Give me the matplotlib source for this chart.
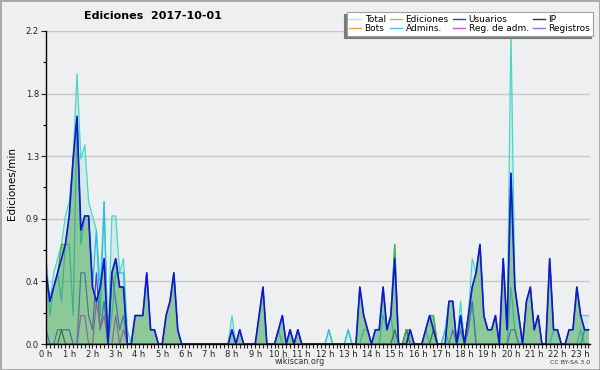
import numpy as np
import matplotlib
matplotlib.use('Agg')
import matplotlib.pyplot as plt
from matplotlib.lines import Line2D
from matplotlib.ticker import FixedLocator, MultipleLocator, FuncFormatter

# edits per 10-minute bin (00:00 ... 23:20)
total = [6, 3, 5, 6, 7, 9, 10, 13, 19, 13,
         14, 10, 9, 8, 4, 10, 0, 9, 9, 5,
         6, 1, 0, 2, 2, 2, 5, 1, 1, 0,
         0, 2, 3, 5, 1, 0, 0, 0, 0, 0,
         0, 0, 0, 0, 0, 0, 0, 0, 2, 0,
         1, 0, 0, 0, 0, 2, 4, 0, 0, 0,
         1, 2, 0, 1, 0, 1, 0, 0, 0, 0,
         0, 0, 0, 1, 0, 0, 0, 0, 1, 0,
         0, 4, 2, 1, 0, 1, 1, 4, 1, 2,
         7, 0, 0, 1, 1, 0, 0, 0, 1, 2,
         2, 0, 0, 1, 3, 3, 0, 3, 0, 2,
         6, 5, 7, 2, 1, 1, 2, 0, 6, 1,
         22, 4, 2, 0, 3, 4, 1, 2, 0, 0,
         6, 1, 1, 0, 0, 1, 1, 4, 2, 2, 2]
ediciones = [5, 3, 4, 5, 7, 7, 9, 13, 16, 8,
             9, 9, 4, 3, 4, 6, 0, 5, 6, 4,
             4, 0, 0, 2, 2, 2, 5, 1, 1, 0,
             0, 2, 3, 5, 1, 0, 0, 0, 0, 0,
             0, 0, 0, 0, 0, 0, 0, 0, 1, 0,
             1, 0, 0, 0, 0, 2, 4, 0, 0, 0,
             1, 2, 0, 1, 0, 1, 0, 0, 0, 0,
             0, 0, 0, 0, 0, 0, 0, 0, 0, 0,
             0, 4, 2, 1, 0, 1, 1, 4, 1, 2,
             7, 0, 0, 1, 1, 0, 0, 0, 1, 2,
             2, 0, 0, 0, 3, 3, 0, 2, 0, 2,
             4, 5, 7, 2, 1, 1, 2, 0, 6, 1,
             12, 4, 2, 0, 3, 4, 1, 2, 0, 0,
             6, 1, 1, 0, 0, 1, 1, 4, 2, 1, 1]
usuarios = [5, 3, 4, 5, 6, 7, 9, 13, 16, 8,
            9, 9, 4, 3, 4, 6, 0, 5, 6, 4,
            4, 0, 0, 2, 2, 2, 5, 1, 1, 0,
            0, 2, 3, 5, 1, 0, 0, 0, 0, 0,
            0, 0, 0, 0, 0, 0, 0, 0, 1, 0,
            1, 0, 0, 0, 0, 2, 4, 0, 0, 0,
            1, 2, 0, 1, 0, 1, 0, 0, 0, 0,
            0, 0, 0, 0, 0, 0, 0, 0, 0, 0,
            0, 4, 2, 1, 0, 1, 1, 4, 1, 2,
            6, 0, 0, 0, 1, 0, 0, 0, 1, 2,
            1, 0, 0, 0, 3, 3, 0, 2, 0, 2,
            4, 5, 7, 2, 1, 1, 2, 0, 6, 1,
            12, 4, 2, 0, 3, 4, 1, 2, 0, 0,
            6, 1, 1, 0, 0, 1, 1, 4, 2, 1, 1]
ip = [0, 0, 0, 0, 1, 0, 0, 0, 0, 0,
      0, 0, 0, 0, 0, 0, 0, 0, 0, 0,
      0, 0, 0, 0, 0, 0, 0, 0, 0, 0,
      0, 0, 0, 0, 0, 0, 0, 0, 0, 0,
      0, 0, 0, 0, 0, 0, 0, 0, 0, 0,
      0, 0, 0, 0, 0, 0, 0, 0, 0, 0,
      0, 0, 0, 0, 0, 0, 0, 0, 0, 0,
      0, 0, 0, 0, 0, 0, 0, 0, 0, 0,
      0, 0, 0, 0, 0, 0, 0, 0, 0, 0,
      1, 0, 0, 1, 0, 0, 0, 0, 0, 0,
      1, 0, 0, 0, 0, 0, 0, 0, 0, 0,
      0, 0, 0, 0, 0, 0, 0, 0, 0, 0,
      0, 0, 0, 0, 0, 0, 0, 0, 0, 0,
      0, 0, 0, 0, 0, 0, 0, 0, 0, 0, 0]
admins = [6, 2, 4, 5, 3, 7, 7, 2, 16, 7,
          9, 9, 4, 8, 2, 10, 0, 2, 5, 5,
          5, 0, 0, 0, 0, 0, 0, 0, 0, 0,
          0, 0, 0, 0, 0, 0, 0, 0, 0, 0,
          0, 0, 0, 0, 0, 0, 0, 0, 0, 0,
          0, 0, 0, 0, 0, 0, 0, 0, 0, 0,
          1, 0, 0, 1, 0, 0, 0, 0, 0, 0,
          0, 0, 0, 1, 0, 0, 0, 0, 1, 0,
          0, 0, 1, 1, 0, 0, 0, 2, 1, 2,
          0, 0, 0, 0, 0, 0, 0, 0, 1, 0,
          0, 0, 0, 1, 0, 0, 0, 2, 0, 1,
          3, 0, 0, 0, 0, 0, 0, 0, 0, 0,
          4, 1, 0, 0, 0, 0, 0, 0, 0, 0,
          0, 1, 1, 0, 0, 0, 0, 0, 1, 0, 0]
reg_adm = [0, 0, 0, 0, 0, 0, 0, 0, 0, 2,
           2, 0, 0, 3, 1, 2, 0, 0, 2, 0,
           1, 0, 0, 0, 0, 0, 0, 0, 0, 0] + [0] * 111
registros = [1, 0, 0, 1, 1, 1, 1, 0, 0, 5,
             5, 2, 1, 5, 1, 3, 0, 5, 3, 1,
             2, 0, 0, 0, 0, 0, 0, 0, 0, 0,
             0, 0, 0, 0, 0, 0, 0, 0, 0, 0,
             0, 0, 0, 0, 0, 0, 0, 0, 0, 0,
             0, 0, 0, 0, 0, 0, 0, 0, 0, 0,
             0, 0, 0, 0, 0, 0, 0, 0, 0, 0,
             0, 0, 0, 0, 0, 0, 0, 0, 0, 0,
             0, 0, 0, 0, 0, 0, 0, 0, 0, 0,
             0, 0, 0, 0, 0, 0, 0, 0, 0, 0,
             0, 0, 0, 0, 0, 1, 0, 1, 0, 1,
             3, 0, 0, 0, 0, 0, 0, 0, 0, 0,
             1, 1, 0, 0, 0, 0, 0, 0, 0, 0,
             0, 0, 0, 0, 0, 0, 0, 0, 0, 1, 1]
bots = [0] * 141

hours = list(range(24))
hour_labels = [f"{h} h" for h in hours]

# per 10 min -> per minute
def per_min(v):
    return np.array(v) / 10.0

t = np.arange(len(total)) / 6.0

fig = plt.figure(figsize=(6, 3.7), dpi=100, facecolor='#efefef',
                 edgecolor='#aaaaaa', linewidth=2)
ax = fig.add_axes([46/600, 26/370, 544/600, 313/370])
ax.set_facecolor('#eeeff1')

# total (light fill) and the thin series underneath the green area
ax.fill_between(t, per_min(total), color='#40d0c0', alpha=0.15, lw=0, zorder=1)
ax.plot(t, per_min(total), color='#48d8c8', lw=0.9, zorder=2)
ax.plot(t, per_min(bots), color='#f0a040', lw=0.8, zorder=1.5)
ax.plot(t, per_min(admins), color='#30bcdc', lw=0.9, zorder=2)
ax.plot(t, per_min(registros), color='#4848f0', lw=0.9, zorder=2)
ax.plot(t, per_min(reg_adm), color='#c830e0', lw=0.9, zorder=2)
ax.plot(t, per_min(ip), color='#3a3a3a', lw=0.9, zorder=2)
ax.fill_between(t, per_min(ediciones), color='#48a848', alpha=0.5, lw=0, zorder=3)
ax.plot(t, per_min(ediciones), color='#40b040', lw=0.9, zorder=3)
ax.plot(t, per_min(usuarios), color='#1414d8', lw=1.2, zorder=4)

ax.set_xlim(0, 23.4)
ax.set_ylim(0, 2.2)

yt = [0, 0.44, 0.88, 1.32, 1.76, 2.2]
ax.yaxis.set_major_locator(FixedLocator(yt))
ax.yaxis.set_minor_locator(FixedLocator([0.22, 0.66, 1.1, 1.54, 1.98]))
ax.yaxis.set_major_formatter(FuncFormatter(lambda v, p: f"{v:.1f}"))
ax.xaxis.set_major_locator(FixedLocator(hours))
ax.set_xticklabels(hour_labels)
ax.xaxis.set_minor_locator(MultipleLocator(1/6))

ax.tick_params(axis='y', which='major', length=3.6, width=0.8, labelsize=6, pad=1.5, colors='#222222')
ax.tick_params(axis='y', which='minor', length=2.2, width=0.8)
ax.tick_params(axis='x', which='both', length=3, width=0.8, labelsize=6, pad=1, colors='#222222')

ax.grid(axis='y', which='major', color='#c8c8c8', lw=1, zorder=0)
ax.set_axisbelow(True)
for s in ('top', 'right'):
    ax.spines[s].set_visible(False)
for s in ('left', 'bottom'):
    ax.spines[s].set_color('black')
    ax.spines[s].set_linewidth(1)
    ax.spines[s].set_zorder(5)

# legend, column-major order for 4 columns x 2 rows
handles = [Line2D([], [], color='#a8e6de', lw=1), Line2D([], [], color='#f0a040', lw=1),
           Line2D([], [], color='#80cc80', lw=1), Line2D([], [], color='#40c8e0', lw=1),
           Line2D([], [], color='#3838e0', lw=1), Line2D([], [], color='#d050e0', lw=1),
           Line2D([], [], color='#333333', lw=1), Line2D([], [], color='#7878f0', lw=1)]
labels = ['Total', 'Bots', 'Ediciones', 'Admins.', 'Usuarios', 'Reg. de adm.', 'IP', 'Registros']
leg = ax.legend(handles, labels, ncol=4, loc='upper right',
                bbox_to_anchor=(593/600, 1 - 12/370), bbox_transform=fig.transFigure,
                fontsize=6.5, frameon=True, fancybox=False,
                shadow={'ox': -1.6, 'oy': -1.6, 'color': '#7a7a7a', 'alpha': 1},
                borderpad=0.3, labelspacing=0.05, handlelength=1.3, handletextpad=0.4,
                columnspacing=0.5, borderaxespad=0)
leg.get_frame().set_edgecolor('#a0a0a0')
leg.get_frame().set_linewidth(0.8)
leg.set_zorder(10)

fig.text(153/600, 1 - 16/370, 'Ediciones  2017-10-01', ha='center', va='center',
         fontsize=8, fontweight='bold')
fig.text(12/600, 187/370, 'Ediciones/min', rotation=90, ha='center', va='center',
         fontsize=7.5)
fig.text(300/600, 1 - 362/370, 'wikiscan.org', ha='center', va='center',
         fontsize=5.8, color='#333333')
fig.text(590/600, 1 - 362/370, 'CC BY-SA 3.0', ha='right', va='center',
         fontsize=4.5, color='#333333')

fig.savefig('out.png', dpi=100, facecolor=fig.get_facecolor(), edgecolor=fig.get_edgecolor())
